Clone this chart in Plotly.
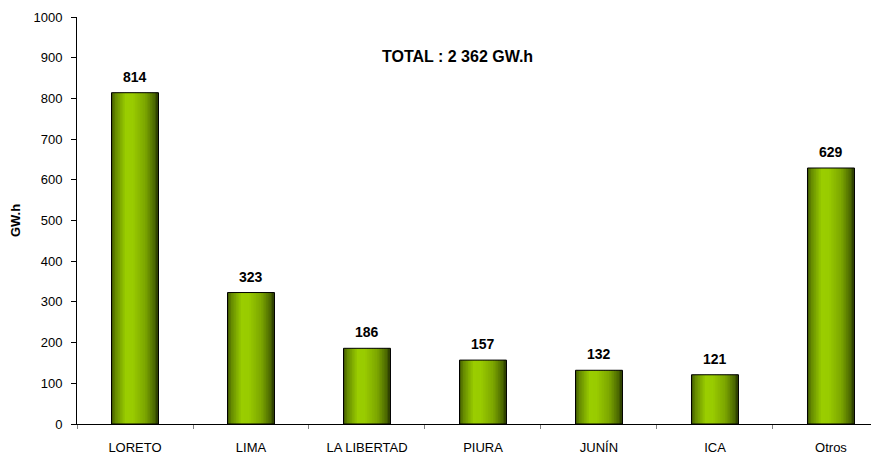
import plotly.graph_objects as go

categories = ["LORETO", "LIMA", "LA LIBERTAD", "PIURA", "JUNÍN", "ICA", "Otros"]
values = [814, 323, 186, 157, 132, 121, 629]
y_ticks = [0, 100, 200, 300, 400, 500, 600, 700, 800, 900, 1000]
total_label = "TOTAL : 2 362 GW.h"
y_title = "GW.h"

FONT = "Arial, Liberation Sans, sans-serif"
BAR_W = 0.405
N_SLICES = 28

stops = [(0.0, (0x3a, 0x50, 0x00)), (0.07, (0x62, 0x86, 0x00)), (0.3, (0x9a, 0xcd, 0x00)),
         (0.45, (0x99, 0xcc, 0x00)), (0.72, (0x7c, 0xa6, 0x00)), (0.92, (0x4a, 0x66, 0x00)),
         (1.0, (0x2a, 0x3a, 0x00))]


def grad(t):
    for (t0, c0), (t1, c1) in zip(stops[:-1], stops[1:]):
        if t0 <= t <= t1:
            f = (t - t0) / (t1 - t0)
            c = [round(a + (b - a) * f) for a, b in zip(c0, c1)]
            return "rgb(%d,%d,%d)" % tuple(c)
    return "rgb(42,58,0)"


fig = go.Figure()
step = BAR_W / N_SLICES
for i in range(N_SLICES):
    t = (i + 0.5) / N_SLICES
    fig.add_trace(go.Bar(
        x=categories, y=values,
        width=step * 1.6 if i < N_SLICES - 1 else step,
        offset=-BAR_W / 2 + i * step,
        marker=dict(color=grad(t), line=dict(width=0)),
        showlegend=False, hoverinfo="skip",
    ))

fig.add_trace(go.Bar(
    x=categories, y=values, width=BAR_W, offset=-BAR_W / 2,
    marker=dict(color="rgba(0,0,0,0)", line=dict(color="#000000", width=1)),
    showlegend=False,
))

for c, v in zip(categories, values):
    fig.add_annotation(
        x=c, y=v, text="<b>%d</b>" % v, showarrow=False, yanchor="bottom",
        yshift=6, font=dict(family=FONT, size=14, color="#000000"),
    )

fig.add_annotation(
    text="<b>%s</b>" % total_label, x=0.474, y=0.904, xref="paper", yref="paper",
    yanchor="middle", showarrow=False, font=dict(family=FONT, size=16, color="#000000"),
)

fig.update_layout(
    width=871, height=450,
    margin=dict(l=69, r=0, t=9, b=34, autoexpand=False),
    barmode="overlay",
    plot_bgcolor="white", paper_bgcolor="white",
    font=dict(family=FONT, size=13, color="#000000"),
    xaxis=dict(
        range=[-0.5, 6.414], showline=True, linecolor="#000000", linewidth=1,
        ticks="outside", tickson="boundaries", ticklen=4, tickcolor="#808080",
        showgrid=False, tickfont=dict(family=FONT, size=13, color="#000000"),
        ticklabelstandoff=11,
    ),
    yaxis=dict(
        range=[0, 1000], tickvals=y_ticks, showline=True, linecolor="#000000",
        linewidth=1, ticks="outside", ticklen=5, tickcolor="#000000",
        showgrid=False, zeroline=False, ticklabelstandoff=6,
        tickfont=dict(family=FONT, size=13, color="#000000"),
        title=dict(text="<b>%s</b>" % y_title, font=dict(family=FONT, size=13), standoff=10),
    ),
)

fig.write_html("out.html")
